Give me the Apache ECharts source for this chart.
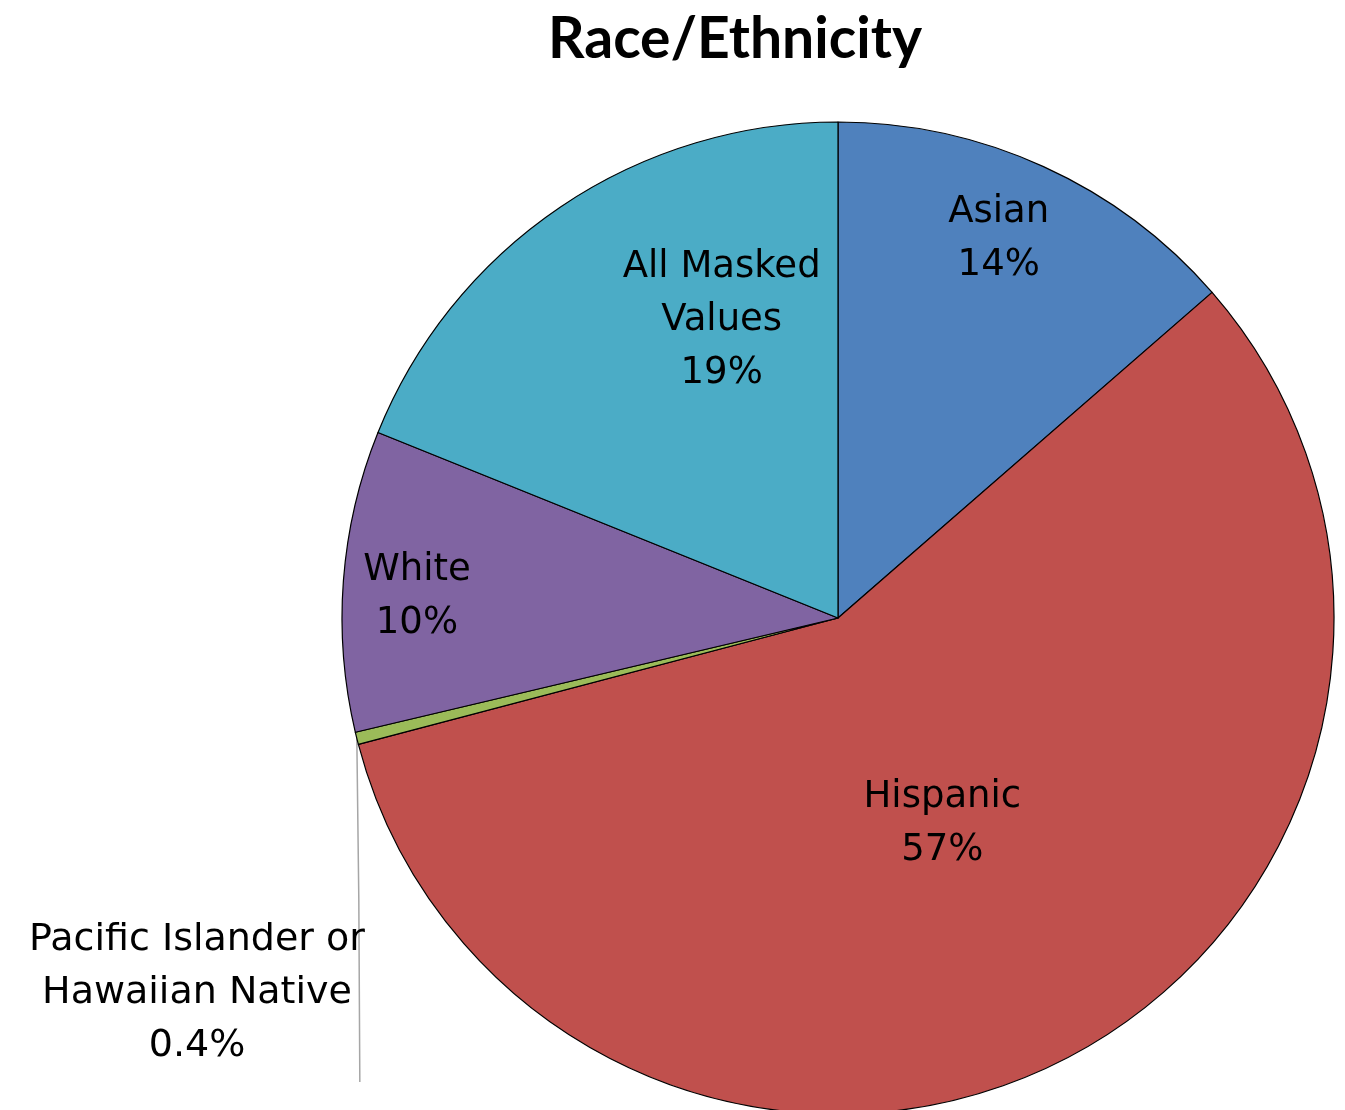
<!DOCTYPE html>
<html>
<head>
<meta charset="utf-8">
<script src="https://cdn.jsdelivr.net/npm/echarts@6/dist/echarts.min.js"></script>
<style>
  html, body { margin: 0; padding: 0; background: #fff; }
  #chart { width: 1345px; height: 1110px; }
</style>
</head>
<body>
<div id="chart"></div>
<script>
var categories = ['Asian', 'Hispanic', 'Pacific Islander or\nHawaiian Native', 'White', 'All Masked\nValues'];
var values = [13.6, 57.3, 0.4, 9.8, 18.9];
var shownPct = ['14%', '57%', '0.4%', '10%', '19%'];
var colors = ['#4F81BD', '#C0504D', '#9BBB59', '#8064A2', '#4BACC6'];

var CX = 838, CY = 618, R = 496;
// label placement: fraction of radius and angle shift (deg), per slice
var labelRadius = [0.83, 0.465, 0, 0.85, 0.645];
var labelShift = [-1.5, 1, 0, -1.4, 12.7];

var total = values.reduce(function (a, b) { return a + b; }, 0);
var midAngles = [];
var acc = 0;
values.forEach(function (v) {
  midAngles.push((acc + v / 2) / total * 2 * Math.PI);
  acc += v;
});

var chart = echarts.init(document.getElementById('chart'));
var option = {
  animation: false,
  title: {
    text: 'Race/Ethnicity',
    left: 730,
    top: 6,
    textAlign: 'center',
    textStyle: { fontFamily: 'Lato', fontWeight: 'bold', fontSize: 57, color: '#000' }
  },
  series: [{
    type: 'pie',
    center: [CX, CY],
    radius: R,
    startAngle: 90,
    clockwise: true,
    itemStyle: { borderColor: '#000', borderWidth: 1.2 },
    label: {
      show: true,
      position: 'inside',
      fontFamily: 'DejaVu Sans',
      fontSize: 37,
      lineHeight: 53,
      color: '#000',
      align: 'center',
      formatter: function (p) { return p.name + '\n' + shownPct[p.dataIndex]; }
    },
    labelLine: { show: false },
    labelLayout: function (p) {
      var i = p.dataIndex;
      if (i === 2) {
        var a = midAngles[i];
        var ex = CX + R * Math.sin(a), ey = CY - R * Math.cos(a);
        return {
          x: 197, y: 993,
          align: 'center', verticalAlign: 'middle',
          labelLinePoints: [[ex, ey], [ex + 2, 900], [ex + 3, 1082]]
        };
      }
      var ang = midAngles[i] + labelShift[i] * Math.PI / 180;
      return {
        x: CX + labelRadius[i] * R * Math.sin(ang),
        y: CY - labelRadius[i] * R * Math.cos(ang),
        align: 'center', verticalAlign: 'middle'
      };
    },
    data: categories.map(function (c, i) {
      var d = { name: c, value: values[i], itemStyle: { color: colors[i] } };
      if (i === 2) {
        d.label = { position: 'outside', overflow: 'none', width: 420, fontSize: 38 };
        d.labelLine = { show: true, smooth: false, length: 10, length2: 10, lineStyle: { color: '#A6A6A6', width: 1.5 } };
      }
      return d;
    })
  }]
};
chart.setOption(option);
</script>
</body>
</html>
